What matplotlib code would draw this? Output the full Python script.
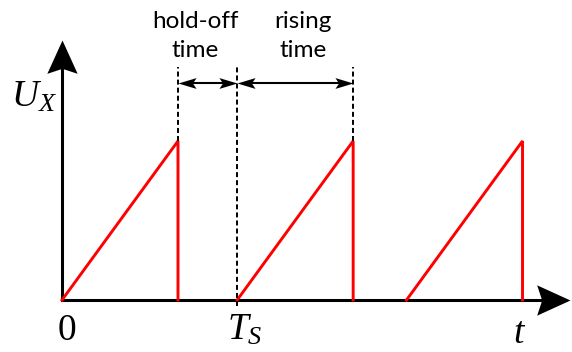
import numpy as np
import matplotlib
matplotlib.use("Agg")
import matplotlib.pyplot as plt
from matplotlib.path import Path

plt.rcParams['lines.scale_dashes'] = False
plt.rcParams['mathtext.fontset'] = 'custom'
plt.rcParams['mathtext.it'] = 'Liberation Serif:italic'
plt.rcParams['mathtext.rm'] = 'Liberation Serif'

# ---- data ----
ramp_starts = [0.0, 1.51, 2.97]     # start time of each ramp
rise_time = 1.0                      # duration of the rising part
amplitude = 1.0                      # ramp height
holdoff_start = 1.0                  # end of first ramp
Ts = 1.51                            # start of second ramp
rising_end = 2.51                    # end of second ramp
labels_top = ["hold-off", "rising"]
labels_bottom = ["time", "time"]
label_x = [1.147, 2.078]

# ---- figure ----
fig = plt.figure(figsize=(5.72, 3.52), dpi=100)
ax = fig.add_axes([0, 0, 1, 1])
ax.set_xlim(-62 / 116, 510 / 116)
ax.set_ylim(-52 / 159, 300 / 159)
ax.axis('off')


def stealth(direction, ratio=0.455, notch=0.85):
    verts = np.array([(0, 0), (-1, ratio), (-notch, 0), (-1, -ratio), (0, 0)], float)
    if direction == 'up':
        verts = np.column_stack([-verts[:, 1], verts[:, 0]])
    elif direction == 'left':
        verts[:, 0] = -verts[:, 0]
    codes = [Path.MOVETO, Path.LINETO, Path.LINETO, Path.LINETO, Path.CLOSEPOLY]
    return Path(verts, codes)


# axes
x_tip = 4.38
y_tip = 1.635
ax.plot([0, x_tip - 0.15], [0, 0], color='black', lw=2.2, solid_capstyle='projecting')
ax.plot([0, 0], [0, y_tip - 0.15], color='black', lw=2.2, solid_capstyle='projecting')
ax.plot([x_tip], [0], marker=stealth('right'), ms=48, color='black', mew=0)
ax.plot([0], [y_tip], marker=stealth('up'), ms=48, color='black', mew=0)

# ramps
for s in ramp_starts:
    ax.plot([s, s + rise_time, s + rise_time], [0, amplitude, 0], color='#ff0000',
            lw=2.1, solid_joinstyle='miter')

# dashed markers
dash_top = 1.465
dash_style = dict(color='black', lw=1.4, dashes=(3.6, 2.2))
ax.plot([holdoff_start, holdoff_start], [amplitude, dash_top], **dash_style)
ax.plot([Ts, Ts], [-0.035, dash_top], **dash_style)
ax.plot([rising_end, rising_end], [amplitude, dash_top], **dash_style)

# double arrows
ay = 1.365
for a, b in [(holdoff_start, Ts), (Ts, rising_end)]:
    ax.plot([a + 0.08, b - 0.08], [ay, ay], color='black', lw=1.5)
    ax.plot([a], [ay], marker=stealth('left', 0.3, 0.8), ms=26, color='black', mew=0)
    ax.plot([b], [ay], marker=stealth('right', 0.3, 0.8), ms=26, color='black', mew=0)

# labels
for x, t1, t2 in zip(label_x, labels_top, labels_bottom):
    ax.text(x, 1.711, t1, ha='center', va='baseline', fontsize=17.5, family='Lato')
    ax.text(x, 1.528, t2, ha='center', va='baseline', fontsize=17.5, family='Lato')

serif = dict(fontsize=27, va='baseline')
ax.text(-0.44, 1.214, r'$U_X$', ha='left', **serif)
ax.text(0.043, -0.2516, r'$\mathrm{0}$', ha='center', **serif)
ax.text(1.425, -0.2516, r'$T_S$', ha='left', **serif)
ax.text(3.948, -0.27, r'$t$', ha='center', **serif)

fig.savefig('out.png', dpi=100)
